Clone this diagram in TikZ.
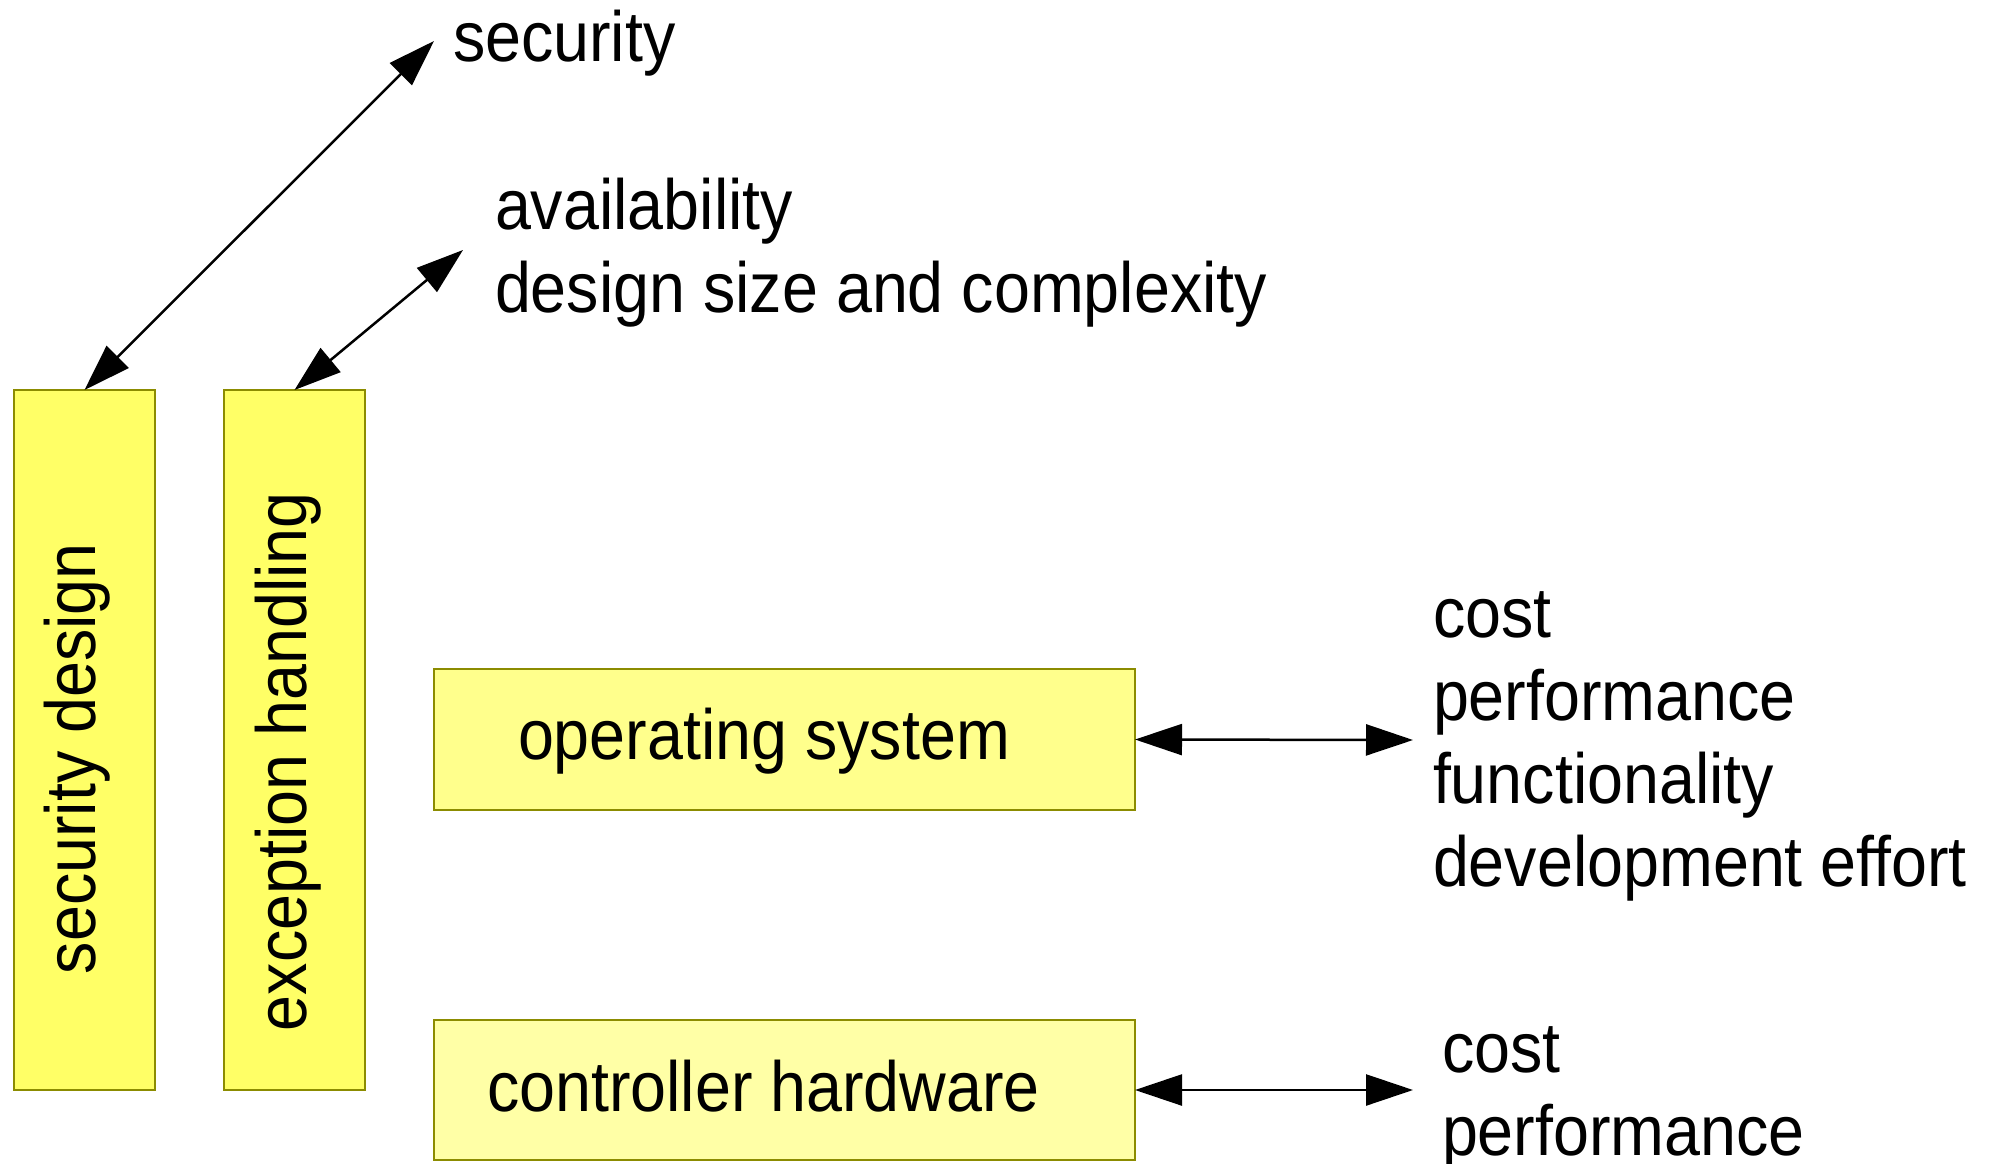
\documentclass[tikz,border=0pt]{standalone}
\usepackage{fontspec}
\setmainfont{Liberation Sans}[FakeStretch=0.91]
\usetikzlibrary{arrows.meta}

\definecolor{boxline}{HTML}{8C8C00}
\definecolor{fillA}{HTML}{FFFF66}
\definecolor{fillB}{HTML}{FFFF8C}
\definecolor{fillC}{HTML}{FFFFA6}

\tikzset{
  block/.style={draw=boxline, line width=2.5pt, inner sep=0pt, outer sep=0pt},
  txt/.style={inner sep=0pt, outer sep=0pt, anchor=base west,
              font=\fontsize{71}{83}\selectfont},
  link/.style={line width=2.5pt, {Triangle[length=47pt,width=31pt]}-{Triangle[length=47pt,width=31pt]}},
}

\begin{document}
\begin{tikzpicture}[x=1pt, y=-1pt]
  \useasboundingbox (0,0) rectangle (1992,1164);

  % vertical blocks
  \node[block, fill=fillA, minimum width=141pt, minimum height=700pt] (sd) at (84.5,740) {};
  \node[block, fill=fillA, minimum width=141pt, minimum height=700pt] (eh) at (294.5,740) {};
  \node[txt, rotate=90] (sdt) at (95,974) {security design};
  \node[txt, rotate=90] (eht) at (306,1031) {exception handling};

  % horizontal blocks
  \node[block, fill=fillB, minimum width=701pt, minimum height=141pt] (os) at (784.5,739.5) {};
  \node[block, fill=fillC, minimum width=701pt, minimum height=140pt] (ch) at (784.5,1090) {};
  \node[txt] (ost) at (518,759) {operating system};
  \node[txt] (cht) at (487,1111) {controller hardware};

  % qualities
  \node[txt] (q1) at (453,62) {security};
  \node[txt] (q2) at (495,229) {availability};
  \node[txt] (q3) at (495,312) {design size and complexity};

  \node[txt] (o1) at (1433,637) {cost};
  \node[txt] (o2) at (1433,720) {performance};
  \node[txt] (o3) at (1433,803) {functionality};
  \node[txt] (o4) at (1433,886) {development effort};

  \node[txt] (h1) at (1442,1072) {cost};
  \node[txt] (h2) at (1442,1155) {performance};

  % arrow end points
  \coordinate (secEnd) at (434,41);
  \coordinate (avEnd) at (463,250);
  \coordinate (osEnd) at (1413,740);
  \coordinate (chEnd) at (1413,1090);

  % connectors
  \draw[link] (sd.north) -- (secEnd);
  \draw[link] (eh.north) -- (avEnd);
  \draw[link] (os.east) -- (osEnd);
  \draw[link] (ch.east) -- (chEnd);
\end{tikzpicture}
\end{document}
